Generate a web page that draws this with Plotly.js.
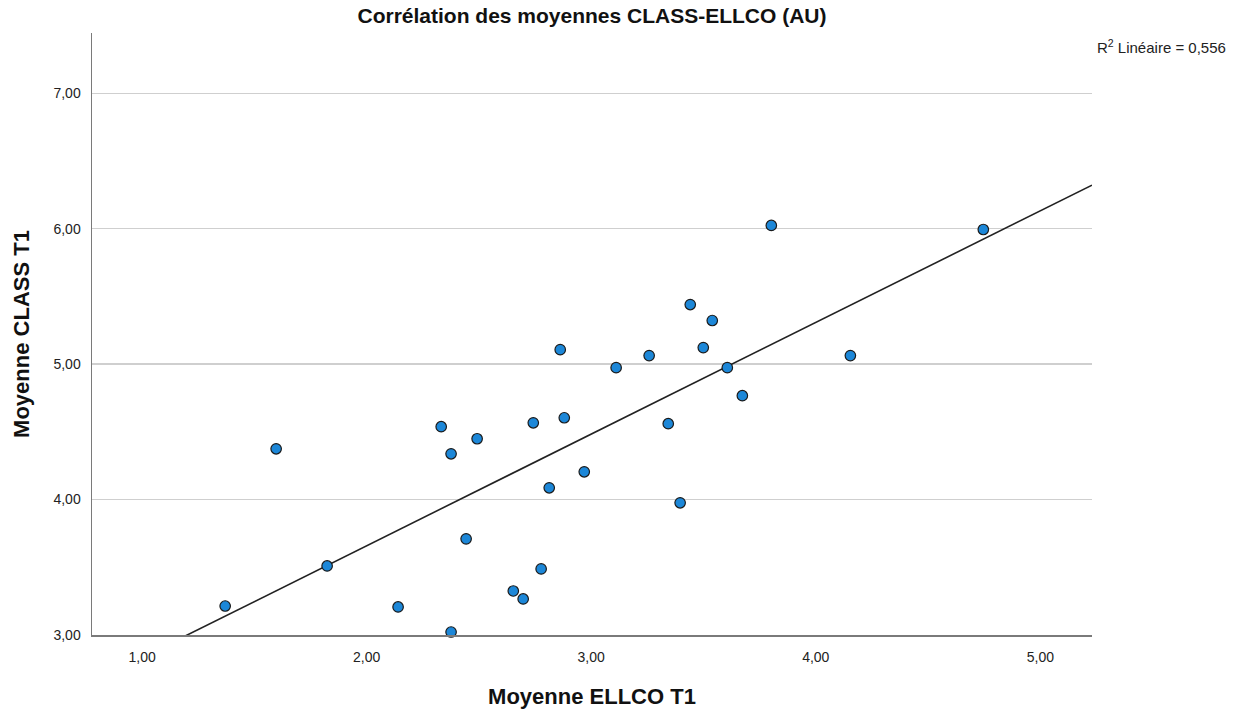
<!DOCTYPE html>
<html>
<head>
<meta charset="utf-8">
<script src="https://cdn.plot.ly/plotly-3.0.1.min.js"></script>
<style>html,body{margin:0;padding:0;background:#fff;}#chart{width:1243px;height:714px;}</style>
</head>
<body>
<div id="chart"></div>
<script>
// Moyenne ELLCO T1 (x) and Moyenne CLASS T1 (y)
const ellcoT1 = [1.370,1.597,1.824,2.140,2.332,2.376,2.376,2.443,2.492,2.653,2.697,2.742,2.777,2.813,2.862,2.880,2.969,3.111,3.258,3.343,3.396,3.441,3.499,3.539,3.606,3.673,3.802,4.154,4.746];
const classT1 = [3.214,4.375,3.510,3.207,4.538,4.338,3.022,3.710,4.449,3.325,3.266,4.567,3.488,4.087,5.107,4.604,4.205,4.974,5.063,4.560,3.976,5.440,5.122,5.322,4.974,4.767,6.024,5.063,5.994];
const xTicks = [1,2,3,4,5];
const yTicks = [3,4,5,6,7];
const xRange = [0.777, 5.23];
const yRange = [3, 7.445];
const r2Text = "R<sup>2</sup> Linéaire = 0,556";

// least-squares fit line from the data
const n = ellcoT1.length;
const mx = ellcoT1.reduce((a,b)=>a+b,0)/n;
const my = classT1.reduce((a,b)=>a+b,0)/n;
let sxy=0, sxx=0;
for (let i=0;i<n;i++){ sxy += (ellcoT1[i]-mx)*(classT1[i]-my); sxx += (ellcoT1[i]-mx)**2; }
const slope = sxy/sxx, intercept = my - slope*mx;
const lineX = [xRange[0], xRange[1]];
const lineY = lineX.map(v => intercept + slope*v);

const font = "Liberation Sans, Arial, sans-serif";
const data = [
  {x: lineX, y: lineY, mode: 'lines', type: 'scatter', line: {color: '#222', width: 1.6}, hoverinfo: 'skip', cliponaxis: true},
  {x: ellcoT1, y: classT1, mode: 'markers', type: 'scatter',
   marker: {size: 10.5, color: '#1c87d8', line: {color: '#1a1a1a', width: 1.2}}, cliponaxis: false}
];
const layout = {
  width: 1243, height: 714,
  margin: {l: 92, r: 151, t: 33, b: 79},
  paper_bgcolor: '#fff', plot_bgcolor: '#fff',
  showlegend: false,
  separators: ', ',
  font: {family: font, color: '#222', size: 14},
  title: {text: '<b>Corrélation des moyennes CLASS-ELLCO (AU)</b>', x: 0.5, xref: 'paper', y: 0.988, yref: 'container', yanchor: 'top',
          font: {family: font, size: 21, color: '#111'}},
  xaxis: {range: xRange, tickvals: xTicks, tickformat: '.2f', showgrid: false, zeroline: false,
          showline: true, linecolor: '#7a7a7a', linewidth: 1.5, ticks: '', ticklabelstandoff: 9,
          tickfont: {family: font, size: 14, color: '#222'},
          title: {text: '<b>Moyenne ELLCO T1</b>', font: {family: font, size: 22, color: '#111'}, standoff: 24}},
  yaxis: {range: yRange, tickvals: yTicks, tickformat: '.2f', showgrid: true, gridcolor: '#cfcfcf', gridwidth: 1.5, zeroline: false,
          showline: true, linecolor: '#7a7a7a', linewidth: 1.5, ticks: '', ticklabelstandoff: 7,
          tickfont: {family: font, size: 14, color: '#222'},
          title: {text: '<b>Moyenne CLASS T1</b>', font: {family: font, size: 22, color: '#111'}, standoff: 18}},
  annotations: [{text: r2Text, xref: 'paper', yref: 'paper', x: 1.136, y: 0.977, xanchor: 'right', yanchor: 'middle',
                 showarrow: false, font: {family: font, size: 15, color: '#222'}}]
};
Plotly.newPlot('chart', data, layout, {displayModeBar: false, staticPlot: true});
</script>
</body>
</html>
